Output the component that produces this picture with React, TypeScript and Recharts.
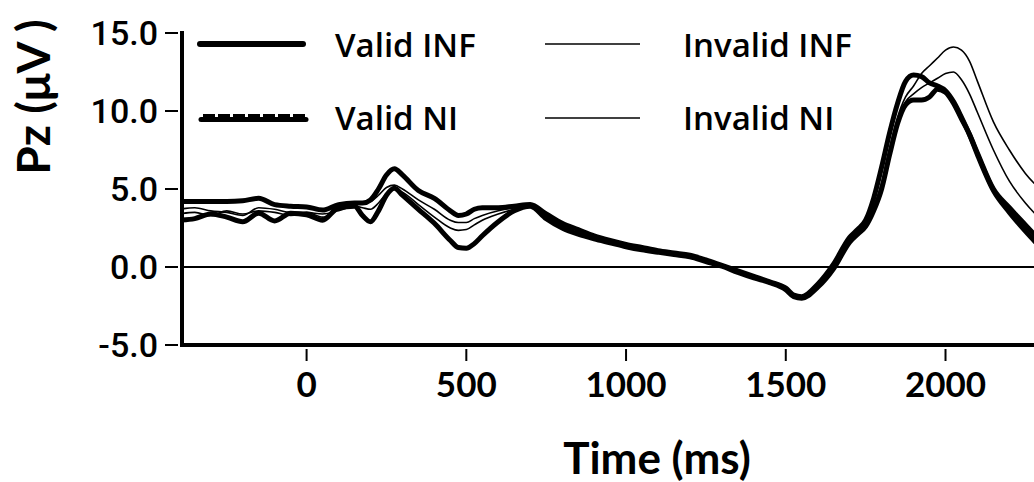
import React from 'react';
import { LineChart, Line, XAxis, YAxis, ReferenceLine } from 'recharts';

// time points (ms)
const times = [
  -400, -350, -300, -250, -200, -150, -100, -50,
  0, 50, 100, 150, 175, 200, 225, 250, 275, 300,
  350, 400, 450, 475, 500, 525, 550, 600, 650, 700,
  750, 800, 850, 900, 950, 1000, 1050, 1100, 1150, 1200, 1250, 1300, 1350, 1400, 1450, 1500,
  1525, 1550, 1600, 1650, 1700,
  1725, 1750, 1775, 1800, 1825, 1850, 1875, 1900, 1925, 1950, 1975, 2000, 2025, 2050, 2075, 2100,
  2150, 2200, 2250, 2300,
];

// amplitudes (µV) per condition
const validInf = [
  4.2, 4.2, 4.2, 4.2, 4.25, 4.4, 4.0, 3.9,
  3.85, 3.65, 4.0, 4.1, 4.1, 4.3, 5.0, 5.9, 6.3, 5.9,
  4.9, 4.4, 3.6, 3.3, 3.4, 3.7, 3.8, 3.8, 3.9, 4.0,
  3.4, 2.8, 2.4, 2.0, 1.7, 1.45, 1.25, 1.05, 0.9, 0.75, 0.45, 0.1, -0.25, -0.6, -0.95, -1.35,
  -1.8, -1.9, -1.1, 0.2, 1.9,
  2.4, 3.0, 4.4, 6.4, 8.6, 10.5, 11.9, 12.3, 12.2, 11.8, 11.6, 11.3, 10.6, 9.6, 8.5, 7.2,
  4.9, 3.5, 2.3, 1.2,
];
const validNi = [
  3.0, 3.1, 3.4, 3.2, 2.9, 3.45, 2.95, 3.45,
  3.35, 3.0, 3.8, 3.9, 3.3, 2.9, 3.6, 4.6, 5.05, 4.6,
  3.7, 2.8, 1.7, 1.25, 1.2, 1.5, 2.0, 2.9, 3.6, 3.9,
  3.1, 2.5, 2.1, 1.8, 1.55, 1.3, 1.1, 0.95, 0.8, 0.65, 0.35, 0.05, -0.35, -0.7, -1.0, -1.45,
  -1.9, -2.0, -1.3, -0.1, 1.6,
  2.1, 2.6, 3.6, 5.0, 7.2, 9.2, 10.4, 10.7, 10.7, 10.9, 11.4, 11.2, 10.5, 9.5, 8.5, 7.3,
  5.0, 3.8, 2.7, 1.6,
];
const invalidInf = [
  3.7, 3.8, 3.6, 3.5, 3.3, 3.8, 3.7, 3.5,
  3.5, 3.2, 3.7, 4.0, 4.1, 4.2, 4.6, 5.1, 5.25, 5.0,
  4.3, 3.7, 3.0, 2.85, 2.85, 3.1, 3.3, 3.6, 3.8, 3.9,
  3.3, 2.6, 2.2, 1.85, 1.55, 1.3, 1.15, 0.95, 0.8, 0.6, 0.3, 0.0, -0.35, -0.65, -0.9, -1.3,
  -1.75, -1.85, -1.2, 0.0, 1.7,
  2.2, 2.7, 3.8, 5.4, 7.6, 9.6, 10.9, 11.6, 12.4, 12.9, 13.4, 13.9, 14.1, 13.9, 13.2, 11.9,
  9.3, 7.5, 6.0, 4.9,
];
const invalidNi = [
  3.4, 3.5, 3.3, 3.6, 3.4, 3.6, 3.5, 3.3,
  3.5, 3.4, 3.6, 3.9, 3.8, 3.7, 4.1, 4.7, 5.0, 4.8,
  4.0, 3.2, 2.5, 2.35, 2.4, 2.7, 3.0, 3.4, 3.7, 3.9,
  3.2, 2.6, 2.2, 1.8, 1.5, 1.35, 1.05, 0.9, 0.8, 0.7, 0.35, 0.05, -0.3, -0.6, -0.9, -1.4,
  -1.85, -1.95, -1.25, -0.05, 1.65,
  2.15, 2.6, 3.7, 5.2, 7.4, 9.4, 10.6, 11.1, 11.5, 11.8, 12.1, 12.4, 12.5, 12.0, 11.1, 9.9,
  7.5, 5.5, 4.1, 3.0,
];

const xTicks = [0, 500, 1000, 1500, 2000];
const yTicks = [-5, 0, 5, 10, 15];

const rows = times.map((t, i) => ({
  t,
  validInf: validInf[i],
  validNi: validNi[i],
  invalidInf: invalidInf[i],
  invalidNi: invalidNi[i],
}));

const tickFont = { fontFamily: 'Roboto', fontWeight: 500, fontSize: 34, fill: '#000' };
const xFont = { fontFamily: 'Lato', fontWeight: 700, fontSize: 35, fill: '#000' };
const legendFont = { fontFamily: 'Open Sans', fontWeight: 600, fontSize: 33, fill: '#000' };

function YTick(props: any) {
  const { y, payload } = props;
  return (
    <g>
      <line x1={165} x2={178} y1={y} y2={y} stroke="#000" strokeWidth={2} />
      <text x={158} y={y + 12} textAnchor="end" {...tickFont}>
        {Number(payload.value).toFixed(1)}
      </text>
    </g>
  );
}

function XTick(props: any) {
  const { x, payload } = props;
  return (
    <g>
      <line x1={x} x2={x} y1={349} y2={361} stroke="#000" strokeWidth={2} />
      <text x={x} y={397} textAnchor="middle" {...xFont}>
        {payload.value}
      </text>
    </g>
  );
}

export default function App() {
  return (
    <div style={{ position: 'absolute', left: 0, top: 0, width: 1034, height: 482, background: '#fff' }}>
      <LineChart width={1034} height={482} data={rows} margin={{ top: 33, right: 0, bottom: 0, left: 0 }}>
        <XAxis
          type="number"
          dataKey="t"
          domain={[-390, 2277]}
          allowDataOverflow
          ticks={xTicks}
          tick={<XTick />}
          tickLine={false}
          height={137}
          axisLine={{ stroke: '#000', strokeWidth: 4, strokeLinecap: 'square' }}
        />
        <YAxis
          type="number"
          domain={[-5, 15]}
          ticks={yTicks}
          tick={<YTick />}
          tickLine={false}
          width={182}
          axisLine={{ stroke: '#000', strokeWidth: 4, strokeLinecap: 'square' }}
        />
        <ReferenceLine y={0} stroke="#000" strokeWidth={2} />
        <Line type="monotone" dataKey="invalidInf" stroke="#000" strokeWidth={1.6} dot={false} isAnimationActive={false} />
        <Line type="monotone" dataKey="invalidNi" stroke="#000" strokeWidth={1.6} dot={false} isAnimationActive={false} />
        <Line type="monotone" dataKey="validNi" stroke="#000" strokeWidth={5} strokeLinejoin="round" dot={false} isAnimationActive={false} />
        <Line type="monotone" dataKey="validInf" stroke="#000" strokeWidth={5} strokeLinejoin="round" dot={false} isAnimationActive={false} />
      </LineChart>
      <svg width={1034} height={482} style={{ position: 'absolute', left: 0, top: 0, pointerEvents: 'none' }}>
        <line x1={200} x2={303} y1={44} y2={44} stroke="#000" strokeWidth={6} strokeLinecap="round" />
        <text x={335} y={57} {...legendFont}>Valid INF</text>
        <line x1={545} x2={640} y1={44} y2={44} stroke="#000" strokeWidth={1.6} />
        <text x={683} y={57} {...legendFont}>Invalid INF</text>
        <line x1={201} x2={306} y1={119.5} y2={119.5} stroke="#000" strokeWidth={5} strokeLinecap="round" />
        <line x1={203} x2={306} y1={118} y2={118} stroke="#000" strokeWidth={8} strokeDasharray="12 3" />
        <text x={335} y={130} {...legendFont}>Valid NI</text>
        <line x1={545} x2={640} y1={118} y2={118} stroke="#000" strokeWidth={1.6} />
        <text x={683} y={130} {...legendFont}>Invalid NI</text>
        <text
          x={32}
          y={97}
          transform="rotate(-90, 32, 97)"
          textAnchor="middle"
          dominantBaseline="central"
          fontFamily="Lato"
          fontWeight={700}
          fontSize={46}
        >
          Pz (μV )
        </text>
        <text x={657} y={474} textAnchor="middle" fontFamily="Lato" fontWeight={700} fontSize={44}>
          Time (ms)
        </text>
      </svg>
    </div>
  );
}
